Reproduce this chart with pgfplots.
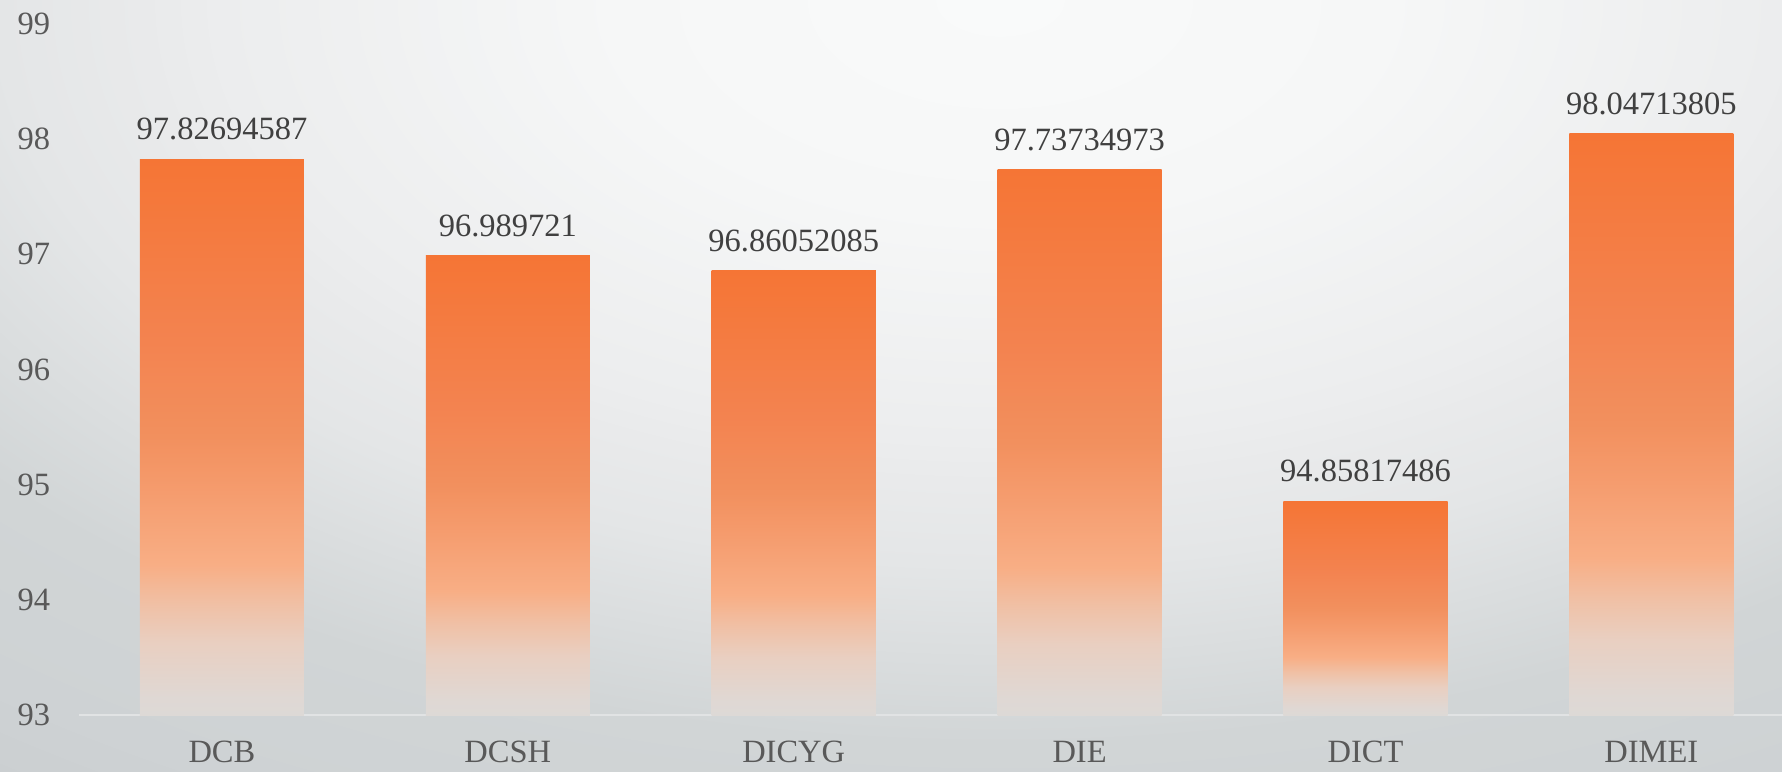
\documentclass[border=0pt]{standalone}
\usepackage{pgfplots}
\pgfplotsset{compat=1.18}
\usepackage{pgfplotstable}
\usepackage{fontspec}
\setmainfont{Liberation Serif}

\definecolor{bgA}{HTML}{F9FAFA}
\definecolor{bgB}{HTML}{F6F7F7}
\definecolor{bgC}{HTML}{ECEDEE}
\definecolor{bgD}{HTML}{E9EAEB}
\definecolor{bgE}{HTML}{E4E6E7}
\definecolor{bgF}{HTML}{D1D5D6}
\definecolor{bgG}{HTML}{CED2D4}
\definecolor{bgH}{HTML}{CBCFD1}

\definecolor{brA}{HTML}{DDD9D6}
\definecolor{brB}{HTML}{DFD8D4}
\definecolor{brC}{HTML}{E9CFC1}
\definecolor{brD}{HTML}{F0C0A5}
\definecolor{brE}{HTML}{F8AE85}
\definecolor{brF}{HTML}{F59C6E}
\definecolor{brG}{HTML}{F2905E}
\definecolor{brH}{HTML}{F38350}
\definecolor{brI}{HTML}{F57535}

\definecolor{ticktext}{HTML}{595959}
\definecolor{labeltext}{HTML}{404040}
\definecolor{axisline}{HTML}{E1E3E4}

\pgfdeclareradialshading{bgshade}{\pgfpoint{0bp}{0bp}}{%
color(0bp)=(bgA); color(5.47bp)=(bgB); color(11.09bp)=(bgC);
color(12.19bp)=(bgD); color(14.22bp)=(bgE); color(18.75bp)=(bgF);
color(22.34bp)=(bgG); color(24.22bp)=(bgH); color(50bp)=(bgH)}

\pgfdeclareverticalshading{barshade}{100bp}{%
color(0bp)=(brA); color(25bp)=(brA); color(26.5bp)=(brB); color(31.5bp)=(brC);
color(35bp)=(brD); color(38.5bp)=(brE); color(45bp)=(brF); color(50bp)=(brG);
color(58.5bp)=(brH); color(75bp)=(brI); color(100bp)=(brI)}

\pgfplotstableread{
x y label
0 97.82694587 97.82694587
1 96.989721 96.989721
2 96.86052085 96.86052085
3 97.73734973 97.73734973
4 94.85817486 94.85817486
5 98.04713805 98.04713805
}\datatable

\pgfplotsset{onebar/.style={ybar, bar width=0.574, bar shift=0pt,
  draw=none, shade, shading=barshade, forget plot}}

\begin{document}
\begin{tikzpicture}
\path[use as bounding box] (0,0) rectangle (712.8pt,308.4pt);
\begin{scope}
\clip (0,0) rectangle (712.8pt,308.4pt);
\shade[shading=bgshade] (400pt-704pt,308.4pt-396.8pt) rectangle (400pt+704pt,308.4pt+396.8pt);
\end{scope}
\begin{axis}[
  at={(31.6pt,22.4pt)}, anchor=south west,
  scale only axis, width=681.2pt, height=276.4pt,
  xmin=-0.5, xmax=5.457, ymin=93, ymax=99,
  enlargelimits=false, clip=false,
  axis x line*=bottom, axis y line*=left,
  x axis line style={-, draw=axisline, line width=0.7pt},
  y axis line style={draw=none},
  tick style={draw=none}, major tick length=0pt,
  xtick={0,1,2,3,4,5},
  xticklabels={DCB,DCSH,DICYG,DIE,DICT,DIMEI},
  ytick={93,94,95,96,97,98,99},
  /pgf/number format/assume math mode=true,
  tick label style={font=\fontsize{13}{15}\selectfont, text=ticktext},
  yticklabel style={anchor=east, xshift=-8pt},
  xticklabel style={anchor=north, yshift=-7pt},
]
\addplot[onebar] coordinates {(0,97.82694587)};
\addplot[onebar] coordinates {(1,96.989721)};
\addplot[onebar] coordinates {(2,96.86052085)};
\addplot[onebar] coordinates {(3,97.73734973)};
\addplot[onebar] coordinates {(4,94.85817486)};
\addplot[onebar] coordinates {(5,98.04713805)};
\addplot[only marks, mark=none, draw=none,
  nodes near coords, point meta=explicit symbolic,
  every node near coord/.append style={anchor=south, yshift=4pt,
    font=\fontsize{13}{15}\selectfont, text=labeltext}]
  table[x=x, y=y, meta=label] {\datatable};
\end{axis}
\end{tikzpicture}
\end{document}
